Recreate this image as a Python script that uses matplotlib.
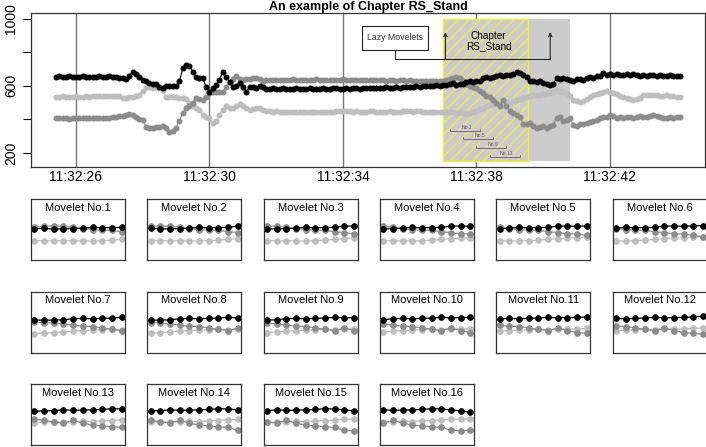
import numpy as np
import matplotlib
matplotlib.use("Agg")
import matplotlib.pyplot as plt
from matplotlib.patches import Rectangle

plt.rcParams['font.family'] = ['Liberation Sans', 'DejaVu Sans']
plt.rcParams['hatch.linewidth'] = 0.8

# three accelerometer-like series, sampled every 0.1 s
black = [655, 656, 654, 655, 656, 655, 654, 655, 656, 655, 654, 655, 655, 656, 654, 655, 656, 654, 650,
         645, 648, 640, 660, 685, 672, 650, 636, 628, 615,
         610, 612, 590, 586, 600, 596, 598, 600, 626, 705,
         725, 721, 685, 652, 646, 644, 592, 566, 586, 606,
         636, 685, 655, 620, 590, 600, 616, 592, 566, 590,
         592, 588, 600, 590, 580,
         582, 584, 580, 582, 586, 580, 578, 582, 584, 580,
         582, 580, 584, 582, 580, 582, 584, 580, 582, 584,
         586, 582, 580, 584, 582, 586, 584, 582, 586, 584,
         588, 584, 586, 588, 586, 590, 588, 586, 590, 588,
         592, 590, 594,
         592, 596, 594, 598, 596, 600, 598, 602, 600, 606, 604, 612,
         616, 606, 610, 612, 620, 630, 624, 628, 630, 648,
         650, 646, 652, 656, 666, 660, 662, 666, 672, 682,
         678, 666, 650, 630, 626, 620, 626, 618, 612, 606,
         612, 646, 642, 648, 643, 636, 630, 640, 643, 636,
         648, 650, 644, 656, 656, 676, 666, 668, 664, 668,
         662, 666, 670, 664, 668, 662, 660, 664, 658, 662,
         666, 660, 664, 658, 660, 664, 658, 660, 656]

dark = [407, 406, 408, 407, 405, 407, 408, 406, 407, 408, 407, 409, 408, 407, 410, 409, 411, 412,
        415, 420, 418, 425, 431, 426, 417, 405, 397, 357,
        347, 350, 357, 355, 361, 347, 327, 333, 351, 390,
        440, 465, 481, 500, 526, 520, 516, 535, 556, 562,
        566, 565, 566, 590, 620, 640, 656, 640, 636, 640,
        642, 644, 646, 640, 630, 634, 636, 636,
        634, 636, 632, 636, 634, 638, 636, 634, 636, 632,
        634, 636, 638, 634, 636, 634, 632, 636, 634, 636,
        638, 636, 634, 632, 636, 634, 636, 634, 632, 634,
        636, 634, 632, 630, 634, 632, 630, 632, 634, 630,
        632, 630,
        628, 630, 626, 628, 626, 630, 626, 628,
        626, 632, 640, 646, 652, 648, 630, 610, 600, 592,
        586, 570, 556, 540, 536, 516, 497, 477, 516, 477,
        450, 440, 425, 417, 375, 370, 377, 360, 347, 352,
        358, 350, 361, 367, 407, 417, 390, 395, 407, 367,
        362, 370, 375, 380, 387, 392, 398, 407, 417, 412,
        427, 418, 410, 413, 408, 412, 417, 410, 414, 420,
        412, 417, 422, 427, 418, 412, 408, 407, 414, 410,
        412, 412]

light = [536, 535, 537, 536, 534, 536, 537, 535, 536, 538, 536, 537, 539, 538, 540, 541, 539, 542, 540, 538,
         528, 526, 532, 536, 540, 546, 570, 592, 590, 588,
         590, 586, 576, 536, 532, 534, 536, 530, 526, 520,
         497, 482, 468, 457, 427, 415, 407, 377, 390, 427,
         457, 477, 467, 470, 482, 491, 477, 470, 457, 460,
         465, 467, 458, 452, 447, 445, 448, 444, 443,
         443, 444, 442, 443, 445, 443, 444, 442, 443, 444,
         446, 445, 443, 444, 446, 448, 450, 452, 450, 448,
         446, 447, 445, 444, 446, 448, 447, 445, 444, 446,
         445, 447, 446, 444, 445, 447, 449, 447, 446, 448,
         447, 445, 446, 444, 443, 445, 444, 442, 443,
         444, 442, 440, 441, 438, 440, 437, 441,
         450, 460, 470, 478, 485, 490, 495, 492, 500, 505,
         500, 510, 515, 522, 530, 536, 540, 546, 544, 548,
         552, 556, 560, 566, 576, 570, 566, 556, 540, 516,
         510, 506, 512, 524, 536, 544, 550, 556, 562, 570,
         564, 556, 550, 542, 536, 530, 522, 516, 520, 530,
         546, 544, 548, 545, 546, 542, 540, 544, 538, 540,
         536, 536]

t0 = 25.4          # seconds after 11:32:00 of first sample
dt = 0.1
t = t0 + dt * np.arange(len(black))

tick_sec = [26, 30, 34, 38, 42]
tick_lab = ['11:32:26', '11:32:30', '11:32:34', '11:32:38', '11:32:42']

# chapter / movelet layout
chapter_span = (37.0, 39.55)
lazy_span = (37.0, 40.81)
first_movelet = 118     # sample index where Movelet No.1 starts
movelet_len = 10
n_movelets = 16
bracket_ids = [1, 5, 9, 13]
bracket_y = [331, 284, 230, 176]

colors = {'light': '#BEBEBE', 'dark': '#8C8C8C', 'black': 'black'}

W, H = 706, 447
fig = plt.figure(figsize=(W / 100, H / 100), dpi=100)

def px_axes(x0, y0, w, h):
    return fig.add_axes([x0 / W, 1 - (y0 + h) / H, w / W, h / H])

# main chart
ax = px_axes(31, 13, 674, 154)
rng = t[-1] - t[0]
ax.set_xlim(t[0] - 0.04 * rng, t[-1] + 0.04 * rng)
ax.set_ylim(116, 1034)

for s in tick_sec:
    ax.axvline(s, color='#777777', lw=1, zorder=0)

ax.add_patch(Rectangle((lazy_span[0], 150), lazy_span[1] - lazy_span[0], 850,
                       facecolor='#CCCCCC', edgecolor='none', zorder=1))
ax.add_patch(Rectangle((chapter_span[0], 150), chapter_span[1] - chapter_span[0], 850,
                       fill=False, edgecolor='#F2EE3A', hatch='///', lw=1, zorder=1.5))

for name, ser in [('light', light), ('dark', dark), ('black', black)]:
    ax.plot(t, ser, '-o', color=colors[name], ms=3.3, lw=0.8, zorder=3)

# Lazy Movelets box and arrows
ax.add_patch(Rectangle((34.57, 815), 1.97, 143, facecolor='white',
                       edgecolor='#222222', lw=0.8, zorder=4))
ax.text(35.555, 886, 'Lazy Movelets', ha='center', va='center', fontsize=6.3,
        color='#333333', zorder=5)
ax.plot([35.555, 35.555, 40.21], [815, 761, 761], color='#222222', lw=0.8, zorder=4)
for xa in [37.07, 40.21]:
    ax.annotate('', xy=(xa, 920), xytext=(xa, 761),
                arrowprops=dict(arrowstyle='->', lw=0.8, color='#222222',
                                mutation_scale=6, shrinkA=0, shrinkB=0), zorder=4)
ax.text(38.36, 868, 'Chapter\nRS_Stand', ha='center', va='center', fontsize=7.2,
        linespacing=1.05, zorder=5)

# movelet brackets
for k, yb in zip(bracket_ids, bracket_y):
    s = first_movelet + k - 1
    x0, x1 = t[s], t[s + movelet_len - 1]
    ax.plot([x0, x0, x1, x1], [yb + 10, yb, yb, yb + 10], color='#6E4F8E', lw=0.6, zorder=4)
    ax.text((x0 + x1) / 2 + 0.05, yb + 4, f'No.{k}', ha='center', va='bottom',
            fontsize=3.6, color='#6E4F8E', zorder=4)

ax.set_xticks(tick_sec)
ax.set_xticklabels(tick_lab, fontsize=10)
ax.tick_params(axis='x', length=0, pad=2)
ax.set_yticks([200, 400, 600, 800, 1000])
ax.set_yticklabels(['200', '', '600', '', '1000'], rotation=90, va='center', fontsize=10)
ax.tick_params(axis='y', length=6, width=0.8, pad=3)
for sp in ax.spines.values():
    sp.set_linewidth(0.9)
    sp.set_color('#333333')
ax.set_title('An example of Chapter RS_Stand', fontsize=9, fontweight='bold', pad=1.5)

# movelet panels
for m in range(n_movelets):
    r, c = divmod(m, 6)
    pax = px_axes(31 + 116.3 * c, 199 + 92.5 * r, 94, 61)
    s = first_movelet + m
    idx = np.arange(1, movelet_len + 1)
    for name, ser in [('light', light), ('dark', dark), ('black', black)]:
        pax.plot(idx, ser[s:s + movelet_len], '-o', color=colors[name], ms=3.8, lw=0.9)
    pax.set_xlim(1 - 0.04 * 9, movelet_len + 0.04 * 9)
    pax.set_ylim(168, 1032)
    pax.set_xticks([])
    pax.set_yticks([])
    for sp in pax.spines.values():
        sp.set_linewidth(0.9)
        sp.set_color('#333333')
    pax.text(0.5, 0.86, f'Movelet No.{m + 1}', transform=pax.transAxes,
             ha='center', va='center', fontsize=8)

fig.savefig('out.png', dpi=100)
